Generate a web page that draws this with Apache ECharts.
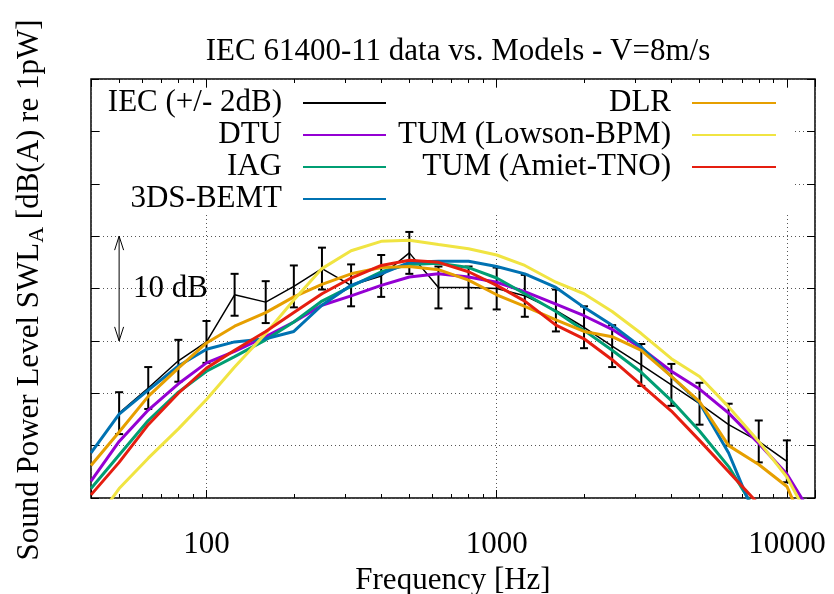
<!DOCTYPE html>
<html>
<head>
<meta charset="utf-8">
<script src="https://cdn.jsdelivr.net/npm/echarts@6/dist/echarts.min.js"></script>
<style>
  html, body { margin: 0; padding: 0; background: #fff; }
  #chart { width: 834px; height: 594px; }
</style>
</head>
<body>
<div id="chart"></div>
<script>
// measured third-octave bands (IEC 61400-11), +/- 2 dB
const freqIEC = [50, 63, 80, 100, 125, 160, 200, 250, 315, 400, 500, 630, 800,
  1000, 1250, 1600, 2000, 2500, 3150, 4000, 5000, 6300, 8000, 10000];
const iecLevel = [68.1, 70.5, 73.1, 74.9, 79.4, 78.7, 80.2, 81.9, 80.3, 81.2, 83.4, 80.1, 80.1,
  80.0, 79.3, 77.9, 76.3, 74.5, 72.7, 70.8, 69.0, 67.0, 65.4, 63.5];
const iecError = 2;

// model predictions
const freqModel = [40, 50, 63, 80, 100, 125, 160, 200, 250, 315, 400, 500, 630, 800,
  1000, 1250, 1600, 2000, 2500, 3150, 4000, 5000, 6300, 8000, 10000, 12500];
const dtu = [61.6, 65.4, 68.4, 70.9, 72.9, 74.0, 75.4, 76.8, 78.4, 79.3, 80.3, 81.1, 81.4, 81.1,
  80.6, 79.7, 78.5, 77.4, 76.1, 74.3, 72.1, 70.4, 68.1, 65.2, 62.3, 57.9];
const iag = [60.9, 64.1, 67.4, 70.1, 72.1, 73.5, 75.1, 76.8, 78.8, 80.2, 81.6, 82.3, 82.4, 82.0,
  81.0, 79.5, 77.8, 76.0, 74.1, 72.0, 69.3, 66.4, 63.0, 58.3, 54.0, 50.0];
const bemt = [64.3, 68.0, 70.3, 72.6, 74.2, 74.9, 75.2, 75.9, 78.4, 80.3, 81.4, 82.5, 82.6, 82.6,
  82.1, 81.4, 80.1, 78.2, 76.5, 74.4, 71.6, 69.1, 64.3, 57.4, 52.0, 48.0];
const dlr = [63.1, 66.3, 69.7, 72.4, 74.8, 76.4, 77.7, 79.2, 80.4, 81.4, 82.0, 82.1, 81.8, 80.8,
  79.4, 78.3, 77.0, 75.9, 75.4, 74.1, 71.6, 69.2, 65.0, 63.2, 61.1, 55.0];
const lowson = [57.2, 60.9, 63.8, 66.6, 69.4, 72.5, 75.7, 78.9, 81.9, 83.6, 84.5, 84.6, 84.2, 83.8,
  83.2, 82.2, 80.6, 79.5, 77.8, 75.7, 73.3, 71.6, 68.7, 65.4, 62.0, 57.0];
const amiet = [60.3, 63.4, 67.0, 70.0, 72.4, 74.1, 75.9, 77.7, 79.5, 81.0, 82.2, 82.7, 82.5, 81.6,
  80.3, 78.8, 76.5, 75.2, 73.2, 70.8, 68.3, 65.5, 62.5, 59.4, 55.0, 51.0];

const majorTicks = [100, 1000, 10000];
const minorTicks = [50, 60, 70, 80, 90, 200, 300, 400, 500, 600, 700, 800, 900,
  2000, 3000, 4000, 5000, 6000, 7000, 8000, 9000];

// "10 dB" scale arrow
const arrowFreq = 50;
const arrowLow = 75;
const arrowHigh = 85;

const FONT = 'Liberation Serif';
const FMIN = 40, FMAX = 12500;
const YMIN = 60, YMAX = 100;

function pairs(xs, ys) {
    return xs.map((x, i) => [x, ys[i]]);
}

function modelSeries(name, values, color) {
    return {
        name: name,
        type: 'line',
        data: pairs(freqModel, values),
        symbol: 'none',
        showSymbol: false,
        clip: true,
        lineStyle: { color: color, width: 3 },
        itemStyle: { color: color },
        z: 3
    };
}

const chart = echarts.init(document.getElementById('chart'));

const legendText = {
    fontFamily: FONT,
    fontSize: 31,
    color: '#000',
    lineHeight: 32,
    padding: [0, 16, 0, 0]
};

const tickStyle = { color: '#000', width: 1 };
const gridDots = { color: '#555', width: 1, type: [1, 3] };

function keyBlock(names, right, iconWidth) {
    return {
        data: names,
        orient: 'vertical',
        align: 'right',
        right: right,
        top: 87,
        padding: 0,
        itemGap: 0,
        itemWidth: iconWidth,
        itemHeight: 12,
        selectedMode: false,
        itemStyle: { opacity: 0, borderWidth: 0 },
        textStyle: legendText
    };
}

const option = {
    animation: false,
    title: {
        text: 'IEC 61400-11 data vs. Models - V=8m/s',
        left: 453,
        top: 31,
        textAlign: 'center',
        textStyle: { fontFamily: FONT, fontSize: 31, fontWeight: 'normal', color: '#000' }
    },
    legend: [
        keyBlock(['IEC (+/- 2dB)', 'DTU', 'IAG', '3DS-BEMT'], 447, 83),
        keyBlock(['DLR', 'TUM (Lowson-BPM)', 'TUM (Amiet-TNO)'], 57, 84)
    ],
    grid: {
        left: 91,
        right: 19,
        top: 79,
        bottom: 96,
        show: true,
        borderColor: '#000',
        borderWidth: 1.5,
        backgroundColor: 'transparent',
        outerBoundsMode: 'none'
    },
    xAxis: [
        {
            type: 'log',
            logBase: 10,
            min: FMIN,
            max: FMAX,
            position: 'bottom',
            axisLine: { show: false },
            axisTick: { inside: true, length: 8, lineStyle: tickStyle },
            axisLabel: {
                margin: 31,
                fontFamily: FONT,
                fontSize: 31,
                color: '#000',
                formatter: function (v) {
                    const r = Math.round(v);
                    return majorTicks.indexOf(r) >= 0 ? String(r) : '';
                }
            },
            splitLine: { show: true, lineStyle: gridDots },
            name: 'Frequency [Hz]',
            nameLocation: 'middle',
            nameGap: 63,
            nameTextStyle: { fontFamily: FONT, fontSize: 31, color: '#000' }
        },
        {
            type: 'log',
            logBase: 10,
            min: FMIN,
            max: FMAX,
            position: 'top',
            axisLine: { show: false },
            axisTick: { inside: true, length: 8, lineStyle: tickStyle },
            axisLabel: { show: false },
            splitLine: { show: false },
            z: 2
        },
        {
            type: 'value',
            min: Math.log10(FMIN),
            max: Math.log10(FMAX),
            position: 'bottom',
            axisLine: { show: false },
            axisTick: { inside: true, length: 4, lineStyle: tickStyle, customValues: minorTicks.map(Math.log10) },
            axisLabel: { show: false },
            splitLine: { show: false }
        },
        {
            type: 'value',
            min: Math.log10(FMIN),
            max: Math.log10(FMAX),
            position: 'top',
            axisLine: { show: false },
            axisTick: { inside: true, length: 4, lineStyle: tickStyle, customValues: minorTicks.map(Math.log10) },
            axisLabel: { show: false },
            splitLine: { show: false },
            z: 2
        }
    ],
    yAxis: [
        {
            type: 'value',
            min: YMIN,
            max: YMAX,
            interval: 5,
            position: 'left',
            axisLine: { show: false },
            axisTick: { show: true, inside: true, length: 8, lineStyle: tickStyle },
            axisLabel: { show: false },
            splitLine: { show: true, lineStyle: gridDots }
        },
        {
            type: 'value',
            min: YMIN,
            max: YMAX,
            interval: 5,
            position: 'right',
            axisLine: { show: false },
            axisTick: { show: true, inside: true, length: 8, lineStyle: tickStyle },
            axisLabel: { show: false },
            splitLine: { show: false },
            z: 2
        }
    ],
    graphic: [
        {
            // opaque key box, hides the grid behind the legend
            type: 'rect',
            shape: { x: 100, y: 88, width: 695, height: 126 },
            style: { fill: '#fff' },
            z: 1
        },
        {
            type: 'text',
            x: 30,
            y: 290,
            rotation: Math.PI / 2,
            style: {
                text: 'Sound Power Level SWL{sub|A} [dB(A) re 1pW]',
                font: '31px "Liberation Serif"',
                fill: '#000',
                align: 'center',
                verticalAlign: 'middle',
                lineHeight: 36,
                rich: {
                    sub: { fontFamily: FONT, fontSize: 22, verticalAlign: 'bottom', lineHeight: 22 }
                }
            }
        }
    ],
    series: [
        {
            name: 'IEC (+/- 2dB)',
            type: 'line',
            data: pairs(freqIEC, iecLevel),
            symbol: 'none',
            showSymbol: false,
            lineStyle: { color: '#000', width: 1.5 },
            itemStyle: { color: '#000' },
            z: 2
        },
        {
            name: 'IEC errorbars',
            type: 'custom',
            data: pairs(freqIEC, iecLevel),
            encode: { x: 0, y: 1 },
            z: 2,
            renderItem: function (params, api) {
                const f = api.value(0);
                const v = api.value(1);
                const top = api.coord([f, v + iecError]);
                const bot = api.coord([f, v - iecError]);
                const cap = 4;
                const st = { stroke: '#000', lineWidth: 2 };
                return {
                    type: 'group',
                    children: [
                        { type: 'line', shape: { x1: top[0], y1: top[1], x2: bot[0], y2: bot[1] }, style: st },
                        { type: 'line', shape: { x1: top[0] - cap, y1: top[1], x2: top[0] + cap, y2: top[1] }, style: st },
                        { type: 'line', shape: { x1: bot[0] - cap, y1: bot[1], x2: bot[0] + cap, y2: bot[1] }, style: st }
                    ]
                };
            }
        },
        modelSeries('DTU', dtu, '#9400d3'),
        modelSeries('IAG', iag, '#009e73'),
        modelSeries('3DS-BEMT', bemt, '#0072b2'),
        modelSeries('DLR', dlr, '#e69f00'),
        modelSeries('TUM (Lowson-BPM)', lowson, '#f0e442'),
        modelSeries('TUM (Amiet-TNO)', amiet, '#e51e10'),
        {
            name: '10 dB arrow',
            type: 'custom',
            data: [[arrowFreq, arrowLow, arrowHigh]],
            encode: { x: 0, y: 1 },
            z: 4,
            renderItem: function (params, api) {
                const f = api.value(0);
                const lo = api.coord([f, api.value(1)]);
                const hi = api.coord([f, api.value(2)]);
                const hw = 4.5, hl = 14;
                const st = { stroke: '#000', lineWidth: 1, fill: null };
                return {
                    type: 'group',
                    children: [
                        { type: 'line', shape: { x1: hi[0], y1: hi[1], x2: lo[0], y2: lo[1] }, style: st },
                        { type: 'polyline', shape: { points: [[hi[0] - hw, hi[1] + hl], [hi[0], hi[1]], [hi[0] + hw, hi[1] + hl]] }, style: st },
                        { type: 'polyline', shape: { points: [[lo[0] - hw, lo[1] - hl], [lo[0], lo[1]], [lo[0] + hw, lo[1] - hl]] }, style: st },
                        {
                            type: 'text',
                            x: lo[0] + 14,
                            y: (lo[1] + hi[1]) / 2,
                            style: {
                                text: '10 dB',
                                font: '31px "Liberation Serif"',
                                fill: '#000',
                                align: 'left',
                                verticalAlign: 'middle'
                            }
                        }
                    ]
                };
            }
        }
    ]
};

chart.setOption(option);
</script>
</body>
</html>
